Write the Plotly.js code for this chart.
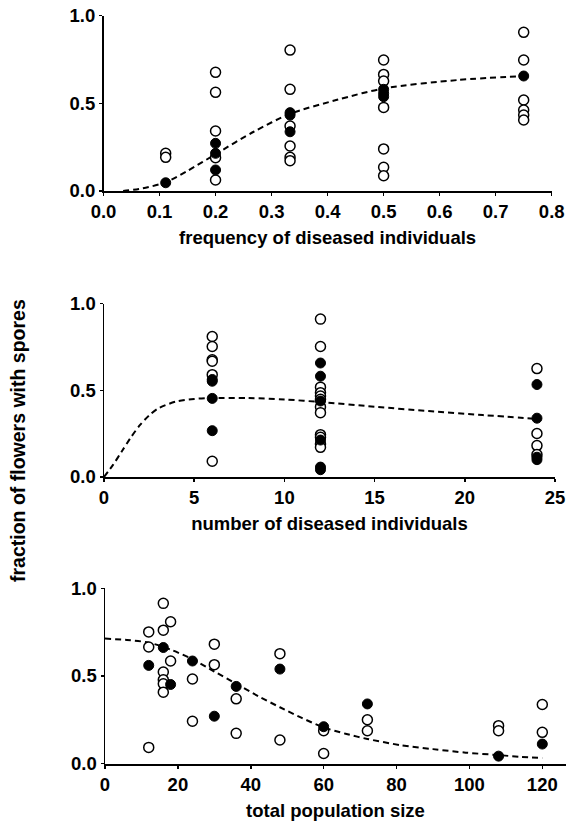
<!DOCTYPE html>
<html>
<head>
<meta charset="utf-8">
<script src="https://cdn.plot.ly/plotly-3.0.1.min.js"></script>
<style>html,body{margin:0;padding:0;background:#fff;}</style>
</head>
<body>
<div id="chart" style="width:567px;height:824px;"></div>
<script>
// Panel 1: frequency of diseased individuals
const p1OpenX = [0.111,0.111, 0.2,0.2,0.2,0.2,0.2, 0.333,0.333,0.333,0.333,0.333,0.333, 0.5,0.5,0.5,0.5,0.5,0.5,0.5, 0.75,0.75,0.75,0.75,0.75,0.75];
const p1OpenY = [0.215,0.192, 0.677,0.563,0.342,0.19,0.063, 0.804,0.58,0.371,0.257,0.192,0.173, 0.747,0.665,0.627,0.477,0.24,0.135,0.087, 0.905,0.747,0.519,0.462,0.433,0.405];
const p1FillX = [0.111, 0.2,0.2,0.2, 0.333,0.333,0.333, 0.5,0.5,0.5, 0.75];
const p1FillY = [0.047, 0.272,0.215,0.12, 0.447,0.433,0.338, 0.58,0.557,0.538, 0.656];
const p1CurveX = [0.035,0.07,0.111,0.15,0.2,0.268,0.333,0.417,0.5,0.632,0.75];
const p1CurveY = [0.0,0.015,0.05,0.115,0.21,0.338,0.44,0.52,0.585,0.633,0.656];

// Panel 2: number of diseased individuals
const p2OpenX = [6,6,6,6,6,6, 12,12,12,12,12,12,12,12,12,12,12,12, 24,24,24,24];
const p2OpenY = [0.81,0.752,0.676,0.667,0.59,0.091, 0.91,0.752,0.518,0.486,0.467,0.448,0.404,0.371,0.244,0.229,0.19,0.171, 0.625,0.251,0.181,0.13];
const p2FillX = [6,6,6,6, 12,12,12,12,12,12, 24,24,24,24];
const p2FillY = [0.562,0.552,0.453,0.267, 0.657,0.581,0.438,0.213,0.057,0.042, 0.533,0.339,0.114,0.1];
const p2CurveX = [0,0.5,1,1.5,2,2.5,3,4,5,6,8,10,12,15,18,21,24];
const p2CurveY = [0,0.07,0.15,0.23,0.3,0.355,0.395,0.435,0.45,0.455,0.455,0.447,0.432,0.405,0.38,0.357,0.335];

// Panel 3: total population size
const p3OpenX = [12,12,12, 16,16,16,16,16,16, 18,18, 24,24, 30,30, 36,36, 48,48, 60,60, 72,72, 108,108, 120,120];
const p3OpenY = [0.751,0.665,0.092, 0.914,0.761,0.522,0.478,0.455,0.407, 0.809,0.585, 0.482,0.241, 0.681,0.564, 0.369,0.172, 0.627,0.134, 0.187,0.057, 0.25,0.187, 0.216,0.187, 0.337,0.178];
const p3FillX = [12,16,18,24,30,36,48,60,72,108,120];
const p3FillY = [0.56,0.662,0.451,0.585,0.27,0.44,0.539,0.21,0.34,0.042,0.111];
const p3CurveX = [0,6,12,18,24,30,36,42,48,54,60,66,72,81,90,99,108,114,120];
const p3CurveY = [0.713,0.705,0.69,0.65,0.595,0.525,0.455,0.385,0.321,0.26,0.206,0.17,0.14,0.105,0.082,0.062,0.048,0.038,0.031];

const yTickVals = [0, 0.5, 1.0];
const yTickText = ['0.0', '0.5', '1.0'];
const p1TickVals = [0,0.1,0.2,0.3,0.4,0.5,0.6,0.7,0.8];
const p2TickVals = [0,5,10,15,20,25];
const p3TickVals = [0,20,40,60,80,100,120];

const FONT = 'Liberation Sans, Arial, Helvetica, sans-serif';
const tickFont = {family: FONT, size: 18.5, color: '#000', weight: 'bold'};
const titleFont = {family: FONT, size: 18.5, color: '#000', weight: 'bold'};
const yTitleFont = {family: FONT, size: 19.5, color: '#000', weight: 'bold'};

function curve(x, y, xa, ya) {
  return {x: x, y: y, xaxis: xa, yaxis: ya, type: 'scatter', mode: 'lines',
    line: {color: '#000', width: 2, dash: '6px,4px', shape: 'spline', smoothing: 0.8},
    hoverinfo: 'skip'};
}
function openPts(x, y, xa, ya) {
  return {x: x, y: y, xaxis: xa, yaxis: ya, type: 'scatter', mode: 'markers', cliponaxis: false,
    marker: {symbol: 'circle', size: 10, color: '#fff', line: {color: '#000', width: 1.5}}};
}
function fillPts(x, y, xa, ya) {
  return {x: x, y: y, xaxis: xa, yaxis: ya, type: 'scatter', mode: 'markers', cliponaxis: false,
    marker: {symbol: 'circle', size: 10, color: '#000', line: {color: '#000', width: 1}}};
}

const data = [
  curve(p1CurveX, p1CurveY, 'x', 'y'),
  openPts(p1OpenX, p1OpenY, 'x', 'y'),
  fillPts(p1FillX, p1FillY, 'x', 'y'),
  curve(p2CurveX, p2CurveY, 'x2', 'y2'),
  openPts(p2OpenX, p2OpenY, 'x2', 'y2'),
  fillPts(p2FillX, p2FillY, 'x2', 'y2'),
  curve(p3CurveX, p3CurveY, 'x3', 'y3'),
  openPts(p3OpenX, p3OpenY, 'x3', 'y3'),
  fillPts(p3FillX, p3FillY, 'x3', 'y3')
];

function xAx(domain, range, vals, fmt, anchor, title) {
  return {domain: domain, range: range, anchor: anchor, tickvals: vals, tickformat: fmt,
    showline: true, linecolor: '#000', linewidth: 2, ticks: 'outside', ticklen: 3, tickwidth: 1.5,
    tickcolor: '#000', showgrid: false, zeroline: false, tickfont: tickFont, automargin: false,
    title: {text: title, font: titleFont, standoff: 10}, fixedrange: true};
}
function yAx(domain, anchor) {
  return {domain: domain, range: [0, 1], anchor: anchor, tickvals: yTickVals, ticktext: yTickText,
    showline: true, linecolor: '#000', linewidth: 1.5, ticks: 'outside', ticklen: 3, tickwidth: 1.5,
    tickcolor: '#000', showgrid: false, zeroline: false, tickfont: tickFont, automargin: false,
    fixedrange: true};
}

const layout = {
  width: 567, height: 824,
  margin: {l: 0, r: 0, t: 0, b: 0},
  paper_bgcolor: '#fff', plot_bgcolor: '#fff',
  showlegend: false,
  xaxis: xAx([103.5/567, 551.7/567], [0, 0.8], p1TickVals, '.1f', 'y', 'frequency of diseased individuals'),
  yaxis: yAx([633/824, 808.3/824], 'x'),
  xaxis2: xAx([104/567, 555/567], [0, 25], p2TickVals, 'd', 'y2', 'number of diseased individuals'),
  yaxis2: yAx([347/824, 520.5/824], 'x2'),
  xaxis3: xAx([105/567, 566/567], [0, 126.5], p3TickVals, 'd', 'y3', 'total population size'),
  yaxis3: yAx([60.5/824, 235.7/824], 'x3'),
  annotations: [{
    text: 'fraction of flowers with spores', textangle: -90,
    xref: 'paper', yref: 'paper', x: 18/567, y: (824-441)/824,
    xanchor: 'center', yanchor: 'middle', showarrow: false,
    font: yTitleFont
  }]
};

Plotly.newPlot('chart', data, layout, {displayModeBar: false, staticPlot: true});
</script>
</body>
</html>
